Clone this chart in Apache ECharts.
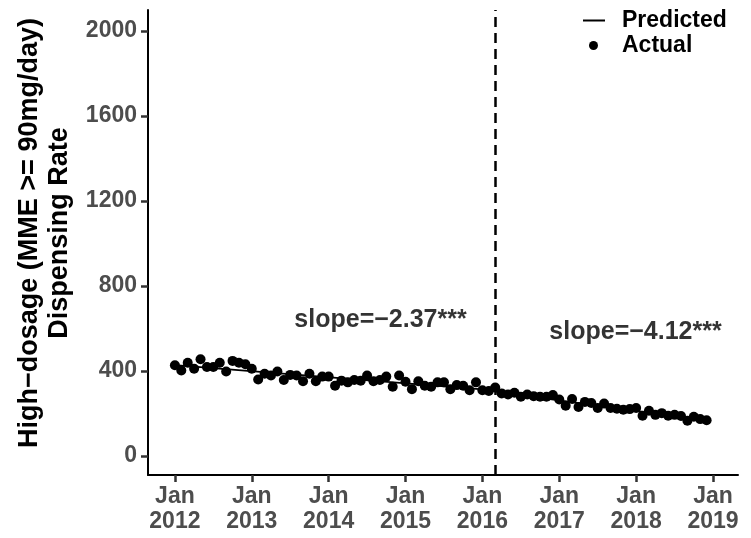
<!DOCTYPE html>
<html>
<head>
<meta charset="utf-8">
<script src="https://cdn.jsdelivr.net/npm/echarts@6/dist/echarts.min.js"></script>
<style>html,body{margin:0;padding:0;background:#fff}#c{width:751px;height:538px}</style>
</head>
<body>
<div id="c"></div>
<script>
// Months are counted from Jan 2012 (0 = Jan 2012)
var yearTicks = [0, 12, 24, 36, 48, 60, 72, 84];
var yearNames = ['2012', '2013', '2014', '2015', '2016', '2017', '2018', '2019'];
var yTicks = [0, 400, 800, 1200, 1600, 2000];

var actual2012 = [427, 403, 439, 411, 456, 419, 419, 439, 398, 448, 439, 432];
var actual2013 = [411, 360, 387, 379, 398, 358, 382, 379, 352, 387, 352, 374];
var actual2014 = [374, 331, 355, 347, 358, 355, 379, 352, 358, 374, 326, 379];
var actual2015 = [350, 315, 352, 331, 326, 347, 347, 315, 334, 331, 310, 347];
var actual2016 = [310, 306, 323, 295, 290, 298, 279, 290, 282, 279, 279, 287];
var actual2017 = [266, 237, 269, 231, 255, 250, 226, 247, 226, 223, 218, 221];
var actual2018 = [226, 190, 213, 194, 202, 190, 194, 189, 166, 185, 174, 169];

var predictedPre = [[0, 428], [49, 312]];
var predictedPost = [[50, 303], [83, 167]];
var interventionMonth = 50; // March 2016

var annotations = [[32.1, 640, 'slope=\u22122.37***'], [71.9, 584, 'slope=\u22124.12***']];

var actualAll = [].concat(actual2012, actual2013, actual2014, actual2015, actual2016, actual2017, actual2018);
var actualData = actualAll.map(function (v, i) { return [i, v]; });

var labelColor = '#4D4D4D';
var tickColor = '#333333';
var fontFam = '"Liberation Sans", Arial, sans-serif';

var chart = echarts.init(document.getElementById('c'), null, { renderer: 'canvas' });
chart.setOption({
  animation: false,
  backgroundColor: '#fff',
  grid: { left: 148, right: 13, top: 10, bottom: 63 },
  xAxis: {
    type: 'value', min: -4.2, max: 87.9,
    axisLine: { onZero: false, lineStyle: { color: '#000', width: 2 } },
    axisTick: { show: true, customValues: yearTicks, length: 7, lineStyle: { color: tickColor, width: 2.5 } },
    axisLabel: {
      customValues: yearTicks, margin: 9, color: labelColor, fontWeight: 'bold', fontSize: 23,
      fontFamily: fontFam, lineHeight: 25,
      formatter: function (v) { return 'Jan\n' + yearNames[yearTicks.indexOf(v)]; }
    },
    splitLine: { show: false }
  },
  yAxis: {
    type: 'value', min: -89, max: 2099,
    axisLine: { show: true, onZero: false, lineStyle: { color: '#000', width: 2 } },
    axisTick: { show: true, customValues: yTicks, length: 7, lineStyle: { color: tickColor, width: 2.5 } },
    axisLabel: {
      customValues: yTicks, margin: 11, color: labelColor, fontWeight: 'bold', fontSize: 23, fontFamily: fontFam,
      formatter: function (v) { return String(v); }
    },
    splitLine: { show: false }
  },
  legend: [
    {
      data: [{ name: 'Predicted', icon: 'rect' }], left: 583, top: 8, padding: 0,
      itemWidth: 22, itemHeight: 2,
      textStyle: { fontSize: 23, fontWeight: 'bold', color: '#000', fontFamily: fontFam, padding: [0, 0, 0, 12], lineHeight: 25 }
    },
    {
      data: [{ name: 'Actual', icon: 'circle' }], left: 589, top: 33, padding: 0,
      itemWidth: 9, itemHeight: 9,
      textStyle: { fontSize: 23, fontWeight: 'bold', color: '#000', fontFamily: fontFam, padding: [0, 0, 0, 19], lineHeight: 25 }
    }
  ],
  graphic: [{
    type: 'text', x: 45, y: 233, rotation: Math.PI / 2,
    style: {
      text: 'High\u2212dosage (MME >= 90mg/day)\nDispensing Rate',
      textAlign: 'center', textVerticalAlign: 'middle', fill: '#000',
      font: 'bold 27px "Liberation Sans", Arial, sans-serif', lineHeight: 30
    }
  }],
  series: [
    {
      name: 'Predicted', type: 'line', data: predictedPre, symbol: 'none', z: 2,
      color: '#000', lineStyle: { color: '#000', width: 1.8 },
      markLine: {
        silent: true, symbol: 'none', label: { show: false },
        lineStyle: { color: '#000', type: [10, 6], width: 2.5 },
        data: [{ xAxis: interventionMonth }]
      }
    },
    {
      name: 'Predicted', type: 'line', data: predictedPost, symbol: 'none', z: 2,
      color: '#000', lineStyle: { color: '#000', width: 1.8 }
    },
    {
      name: 'Actual', type: 'scatter', data: actualData, symbol: 'circle', symbolSize: 10, z: 3,
      itemStyle: { color: '#000', opacity: 1 }
    },
    {
      name: 'annot', type: 'scatter', data: annotations, symbolSize: 0, z: 4,
      label: {
        show: true, position: 'inside', color: '#000', fontWeight: 'bold', fontSize: 25, fontFamily: fontFam,
        formatter: function (p) { return p.value[2]; }
      }
    }
  ]
});
</script>
</body>
</html>
